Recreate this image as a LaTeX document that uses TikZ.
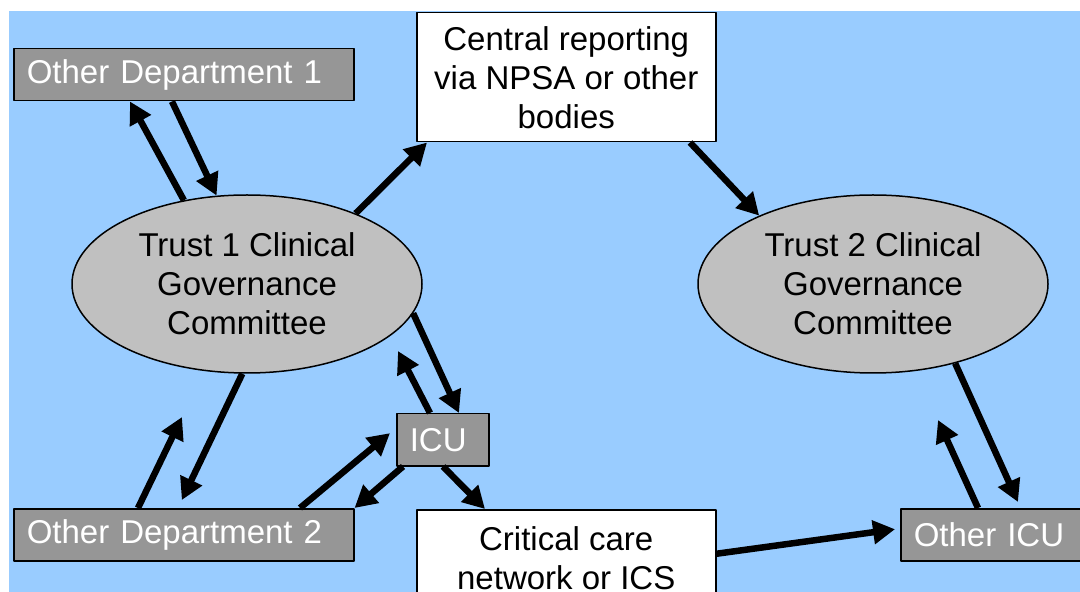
\documentclass[tikz,border=0pt]{standalone}
\usepackage{fontspec}
\setmainfont{Liberation Sans}
\usetikzlibrary{arrows.meta,shapes.geometric}
\definecolor{skyblue}{HTML}{99CCFF}
\definecolor{boxgray}{HTML}{969696}
\definecolor{ovalgray}{HTML}{C0C0C0}
\begin{document}
\begin{tikzpicture}[x=0.5pt,y=-0.5pt,line join=round,font=\fontsize{16.5}{19.5}\selectfont,
    graybox/.style={draw=black,line width=0.75pt,fill=boxgray,text=white,align=left,inner xsep=6.5pt,inner ysep=0pt,minimum height=26pt,anchor=north west},
    whitebox/.style={draw=black,line width=0.75pt,fill=white,align=center,inner sep=0pt,minimum width=149.5pt,anchor=north west},
    oval/.style={ellipse,draw=black,line width=0.75pt,fill=ovalgray,align=center,inner sep=0pt,minimum width=175pt,minimum height=89pt},
    flow/.style={line width=3.25pt,-{Triangle[length=11pt,width=11.5pt]}}]
                \useasboundingbox (0,0) rectangle (1080,592);
                \fill[white] (0,0) rectangle (1080,592);
                \clip (0,0) rectangle (1080,592);
                \fill[skyblue] (9,11) rectangle (1080,592);
                \node[graybox,text width=157pt] (od1) at (13,48) {Other Department 1};
                \node[graybox,text width=157pt] (od2) at (13,508) {Other Department 2};
                \node[graybox,text width=33pt] (icu) at (396,413) {ICU};
                \node[graybox,text width=87pt] (oicu) at (900,508) {Other ICU};
                \node[whitebox,minimum height=64.5pt] (cen) at (416,12) {Central reporting\\via NPSA or other\\bodies};
                \node[whitebox,minimum height=48pt] (crit) at (416,509) {Critical care\\network or ICS};
                \node[oval] (t1) at (247,284) {Trust 1 Clinical\\Governance\\Committee};
                \node[oval] (t2) at (873,284) {Trust 2 Clinical\\Governance\\Committee};
                \coordinate (icuup) at (398,351);
                \coordinate (od2up) at (182,417);
                \coordinate (oicuup) at (938,420);
                \draw[flow] (t1.127) -- ([xshift=58.5pt]od1.south west);
                \draw[flow] ([xshift=79.5pt]od1.south west) -- (t1.109);
                \draw[flow] (t1.33) -- ([xshift=5.5pt]cen.south west);
                \draw[flow] ([xshift=137pt]cen.south west) -- (t2.149);
                \draw[flow] (t1.-10) -- ([xshift=31.5pt]icu.north west);
                \draw[flow] ([xshift=17pt]icu.north west) -- (icuup);
                \draw[flow,shorten >=4.4pt] (t1.267) -- ([xshift=82.5pt]od2.north west);
                \draw[flow] ([xshift=62.5pt]od2.north west) -- (od2up);
                \draw[flow,shorten >=3.9pt] ([xshift=143.5pt]od2.north west) -- ([yshift=5.8pt]icu.west);
                \draw[flow] ([xshift=3.5pt]icu.south west) -- (od2.north east);
                \draw[flow] ([xshift=23.5pt]icu.south west) -- ([xshift=34.5pt]crit.north west);
                \draw[flow,shorten >=2.5pt] ([yshift=2pt]crit.east) -- ([yshift=3.1pt]oicu.west);
                \draw[flow,shorten >=3.3pt] (t2.-44) -- ([xshift=60.35pt]oicu.north west);
                \draw[flow] ([xshift=39pt]oicu.north west) -- (oicuup);
\end{tikzpicture}
\end{document}
